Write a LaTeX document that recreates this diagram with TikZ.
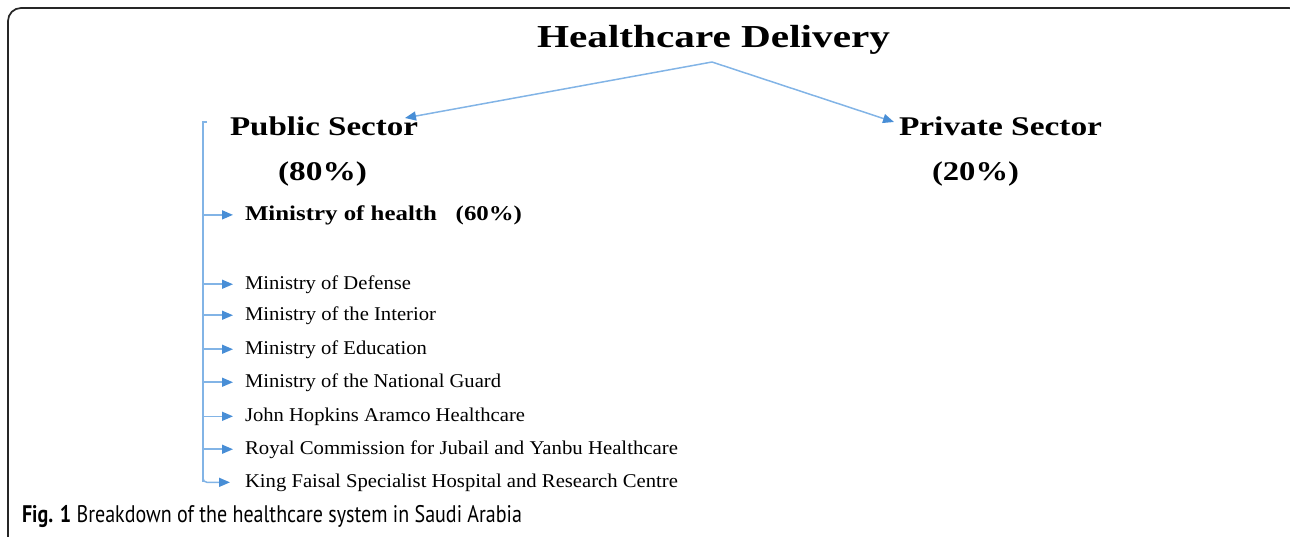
\documentclass[tikz,border=0pt]{standalone}
\usepackage{fontspec}
\usepackage{graphicx}
\setmainfont{Liberation Serif}
\newfontfamily\capfont{PT Sans}
\usetikzlibrary{arrows.meta}
\definecolor{linkblue}{RGB}{130,180,230}
\definecolor{tipblue}{RGB}{72,142,214}
\newcommand{\fitw}[2]{\resizebox{#1}{\height}{#2}}
\tikzset{
  lbl/.style={anchor=base west, inner sep=0pt, outer sep=0pt},
  link/.style={draw=linkblue, line width=1.5pt, -{Triangle[length=11pt,width=9pt,color=tipblue]}},
  trunk/.style={draw=linkblue, line width=1.5pt},
}
\begin{document}
\begin{tikzpicture}[x=1pt,y=-1pt]
\useasboundingbox (0,0) rectangle (1290,536);
% frame
\draw[black!85, line width=1.7pt, rounded corners=13pt] (8,570) -- (8,8) -- (1302,8) -- (1302,570);
% title and sectors
\node[lbl] (title) at (537,47) {\fontsize{32}{32}\selectfont\fitw{353pt}{\bfseries Healthcare Delivery}};
\coordinate (peak) at (712,62);
\node[lbl] (pub) at (230,135) {\fontsize{27}{27}\selectfont\fitw{188pt}{\bfseries Public Sector}};
\node[lbl] (pubpct) at (278,180) {\fontsize{27}{27}\selectfont\fitw{89pt}{\bfseries (80\%)}};
\node[lbl] (priv) at (899,135) {\fontsize{27}{27}\selectfont\fitw{203pt}{\bfseries Private Sector}};
\node[lbl] (privpct) at (932,180) {\fontsize{27}{27}\selectfont\fitw{87pt}{\bfseries (20\%)}};
\coordinate (pubtip) at (405,118);
\coordinate (privtip) at (894,122);
\draw[link] (peak) -- (pubtip);
\draw[link] (peak) -- (privtip);
% list
\node[lbl] (moh) at (245,220) {\fontsize{21}{21}\selectfont\fitw{277pt}{\bfseries Ministry of health\ \ \ (60\%)}};
\node[lbl] (i1) at (245,289) {\fontsize{19.5}{19.5}\selectfont\fitw{166pt}{Ministry of Defense}};
\node[lbl] (i2) at (245,320) {\fontsize{19.5}{19.5}\selectfont\fitw{191pt}{Ministry of the Interior}};
\node[lbl] (i3) at (245,354) {\fontsize{19.5}{19.5}\selectfont\fitw{182pt}{Ministry of Education}};
\node[lbl] (i4) at (245,387) {\fontsize{19.5}{19.5}\selectfont\fitw{256pt}{Ministry of the National Guard}};
\node[lbl] (i5) at (245,421) {\fontsize{19.5}{19.5}\selectfont\fitw{280pt}{John Hopkins Aramco Healthcare}};
\node[lbl] (i6) at (245,454) {\fontsize{19.5}{19.5}\selectfont\fitw{433pt}{Royal Commission for Jubail and Yanbu Healthcare}};
\node[lbl] (i7) at (245,487) {\fontsize{19.5}{19.5}\selectfont\fitw{433pt}{King Faisal Specialist Hospital and Research Centre}};
\coordinate (ttop) at (203,122);
\coordinate (ttick) at (207,122);
\draw[trunk] (ttick) -- (ttop) -- (ttop |- i7.west);
\draw[link, rounded corners=4pt] (ttop) -- (ttop |- i7.west) -- ([xshift=-15pt]i7.west);
\foreach \n in {moh,i1,i2,i3,i4,i5,i6}{
  \draw[link] (ttop |- \n.west) -- ([xshift=-12pt]\n.west);
}
% caption
\node[lbl] (cap) at (22,522) {\fontsize{24}{24}\selectfont\fitw{500pt}{\capfont\textbf{Fig. 1} Breakdown of the healthcare system in Saudi Arabia}};
\end{tikzpicture}
\end{document}
